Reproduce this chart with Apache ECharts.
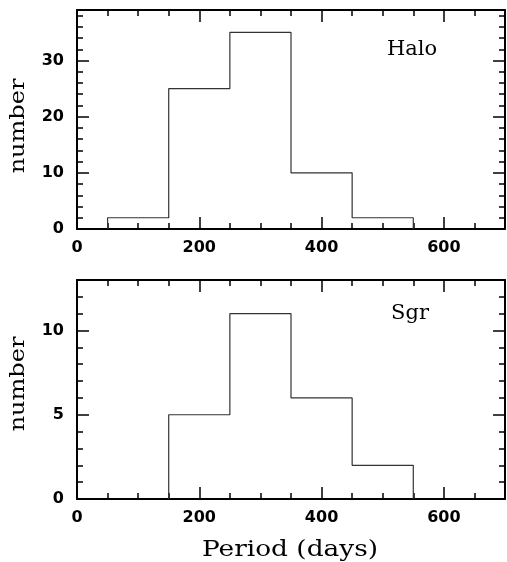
<!DOCTYPE html>
<html>
<head>
<meta charset="utf-8">
<script src="https://cdn.jsdelivr.net/npm/echarts@6/dist/echarts.min.js"></script>
<style>
  html, body { margin: 0; padding: 0; background: #fff; }
  #chart { width: 507px; height: 562px; }
</style>
</head>
<body>
<div id="chart"></div>
<script>
// Period histograms: halo vs Sgr
const xMajorTicks = [0, 200, 400, 600];
const xMinorTicks = [50, 100, 150, 250, 300, 350, 450, 500, 550, 650];

const haloBinEdges = [50, 150, 250, 350, 450, 550];
const haloCounts = [2, 25, 35, 10, 2];
const haloYMajor = [0, 10, 20, 30];
const haloYMinor = [2, 4, 6, 8, 12, 14, 16, 18, 22, 24, 26, 28, 32, 34, 36, 38];

const sgrBinEdges = [150, 250, 350, 450, 550];
const sgrCounts = [5, 11, 6, 2];
const sgrYMajor = [0, 5, 10];
const sgrYMinor = [1, 2, 3, 4, 6, 7, 8, 9, 11, 12];

const X_MAX = 700;
const HALO_Y_MAX = 39;
const SGR_Y_MAX = 13;

const SANS = 'DejaVu Sans';
const SERIF = 'DejaVu Serif';

// step outline of a histogram, closed down to zero at both ends
function outline(edges, counts) {
  const pts = [[edges[0], 0]];
  for (let i = 0; i < counts.length; i++) {
    pts.push([edges[i], counts[i]]);
    pts.push([edges[i + 1], counts[i]]);
  }
  pts.push([edges[edges.length - 1], 0]);
  return pts;
}

// a framed axis pair: labelled side + mirrored side, each with major and minor ticks
function axisSet(kind, grid, max, major, minor, withLabels) {
  const sides = kind === 'x' ? ['bottom', 'top'] : ['left', 'right'];
  const out = [];
  sides.forEach((pos, si) => {
    [major, minor].forEach((vals, mi) => {
      out.push({
        type: 'value',
        gridIndex: grid,
        position: pos,
        min: 0,
        max: max,
        splitLine: { show: false },
        axisLine: { show: mi === 0, onZero: false, lineStyle: { color: '#000', width: 2 } },
        axisTick: {
          show: true, inside: true, customValues: vals,
          length: mi === 0 ? 12 : 6,
          lineStyle: { color: '#000', width: 1.5 }
        },
        axisLabel: {
          show: withLabels && si === 0 && mi === 0,
          customValues: major,
          margin: kind === 'x' ? 11 : 13,
          color: '#000',
          fontFamily: SANS,
          fontWeight: 'bold',
          fontSize: 16
        }
      });
    });
  });
  return out;
}

const xAxes = [].concat(
  axisSet('x', 0, X_MAX, xMajorTicks, xMinorTicks, true),
  axisSet('x', 1, X_MAX, xMajorTicks, xMinorTicks, true)
);
const yAxes = [].concat(
  axisSet('y', 0, HALO_Y_MAX, haloYMajor, haloYMinor, true),
  axisSet('y', 1, SGR_Y_MAX, sgrYMajor, sgrYMinor, true)
);

function serifText(text, x, y, size, rot, sx) {
  return {
    type: 'text',
    x: x, y: y,
    rotation: rot || 0,
    scaleX: sx,
    style: {
      text: text,
      fill: '#000',
      font: size + 'px "' + SERIF + '"',
      align: 'center',
      verticalAlign: 'middle'
    }
  };
}

const chart = echarts.init(document.getElementById('chart'), null, { renderer: 'canvas' });
chart.setOption({
  animation: false,
  backgroundColor: '#fff',
  grid: [
    { left: 77, top: 10, width: 428, height: 219 },
    { left: 77, top: 280, width: 428, height: 219 }
  ],
  xAxis: xAxes,
  yAxis: yAxes,
  series: [
    {
      name: 'Halo', type: 'line', xAxisIndex: 0, yAxisIndex: 0,
      data: outline(haloBinEdges, haloCounts),
      showSymbol: false, symbol: 'none',
      lineStyle: { color: '#333', width: 1.2 }
    },
    {
      name: 'Sgr', type: 'line', xAxisIndex: 4, yAxisIndex: 4,
      data: outline(sgrBinEdges, sgrCounts),
      showSymbol: false, symbol: 'none',
      lineStyle: { color: '#333', width: 1.2 }
    }
  ],
  graphic: [
    serifText('number', 19, 126, 20, Math.PI / 2, 1.2),
    serifText('number', 19, 384, 20, Math.PI / 2, 1.2),
    serifText('Period (days)', 290, 550, 22, 0, 1.2),
    serifText('Halo', 412, 50, 20, 0, 1.05),
    serifText('Sgr', 410, 314, 20, 0, 1.05)
  ]
});
</script>
</body>
</html>
